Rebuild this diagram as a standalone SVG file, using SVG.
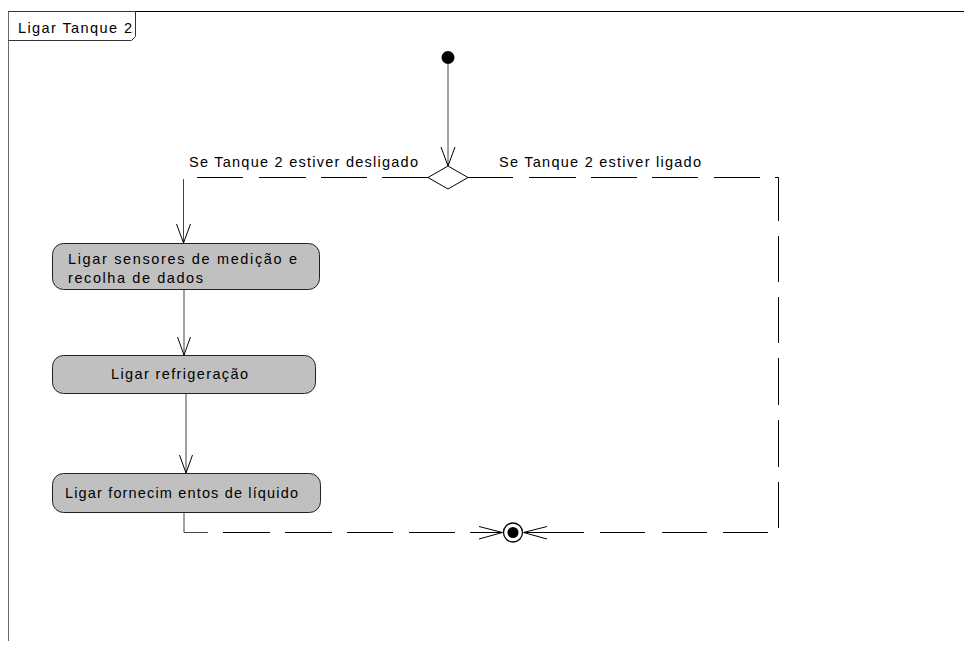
<svg xmlns="http://www.w3.org/2000/svg" width="964" height="645" viewBox="0 0 964 645">
<style>
text{font-family:"Liberation Sans",Arial,sans-serif;font-size:14.5px;fill:#000}
.node rect{fill:#c0c0c0;stroke:#222;stroke-width:1}
.c{fill:none;stroke:#000;stroke-width:1}
.s{fill:none;stroke:#444;stroke-width:1}
</style>
<rect width="964" height="645" fill="#fff"/>
<g id="frame">
<line x1="8" y1="11.5" x2="964" y2="11.5" stroke="#000"/>
<line x1="8.5" y1="11" x2="8.5" y2="641" stroke="#666"/>
<path d="M8.5,11.5 H135.5 V36.5 L131.5,40.5 H8.5" fill="none" stroke="#333"/>
<text x="18" y="33" textLength="114" lengthAdjust="spacing">Ligar Tanque 2</text>
</g>
<g id="start"><circle cx="448" cy="57.5" r="6.5" fill="#000"/></g>
<g id="decision"><path d="M448,166 L468,177.5 L448,189 L428,177.5 Z" fill="#fff" stroke="#000"/></g>
<g id="n1" class="node">
<rect x="52.5" y="243.5" width="267" height="46" rx="11"/>
<text x="68" y="264" textLength="229" lengthAdjust="spacing">Ligar sensores de medição e</text>
<text x="68" y="283" textLength="135" lengthAdjust="spacing">recolha de dados</text>
</g>
<g id="n2" class="node">
<rect x="52.5" y="355.5" width="263" height="38" rx="11"/>
<text x="111" y="379" textLength="137" lengthAdjust="spacing">Ligar refrigeração</text>
</g>
<g id="n3" class="node">
<rect x="52.5" y="473.5" width="268" height="39" rx="11"/>
<text x="65" y="498" textLength="233" lengthAdjust="spacing">Ligar fornecim entos de líquido</text>
</g>
<g id="end"><circle cx="513" cy="532.5" r="9.5" fill="#fff" stroke="#000" stroke-width="1.3"/><circle cx="513" cy="532.5" r="5.5" fill="#000"/></g>
<g id="connectors">
<line class="s" x1="448" y1="64" x2="448" y2="166"/>
<path class="c" d="M441,147 L448,166 L455,147"/>
<path class="c" d="M428,177.5 H382 M367,177.5 H321 M306,177.5 H259 M243,177.5 H197"/>
<line class="s" x1="183.5" y1="179" x2="183.5" y2="243"/>
<path class="c" d="M176.5,224 L183.5,243 L190.5,224"/>
<text x="189" y="167" textLength="229" lengthAdjust="spacing">Se Tanque 2 estiver desligado</text>
<path class="c" d="M468,177.5 H513 M529,177.5 H576 M591,177.5 H637 M652,177.5 H698 M714,177.5 H760 M775,177.5 H778.5 V221 M778.5,236 V282 M778.5,297 V343 M778.5,358 V405 M778.5,420 V467 M778.5,482 V528"/>
<text x="499" y="167" textLength="202" lengthAdjust="spacing">Se Tanque 2 estiver ligado</text>
<line class="s" x1="184" y1="290" x2="184" y2="355"/>
<path class="c" d="M177.5,337 L184,355 L190.5,337"/>
<line class="s" x1="186" y1="394" x2="186" y2="473"/>
<path class="c" d="M179.5,455 L186,473 L192.5,455"/>
<path class="s" d="M184,513 V532.5 H208"/>
<path class="c" d="M223,532.5 H270 M285,532.5 H332 M347,532.5 H393 M409,532.5 H455 M470,532.5 H502"/>
<path class="c" d="M479,526.5 L502.5,532.5 L479,539"/>
<path class="c" d="M768,532.5 H723 M707,532.5 H662 M645,532.5 H600 M584,532.5 H524"/>
<path class="c" d="M547,526.5 L523.5,532.5 L547,539"/>
</g>
</svg>
